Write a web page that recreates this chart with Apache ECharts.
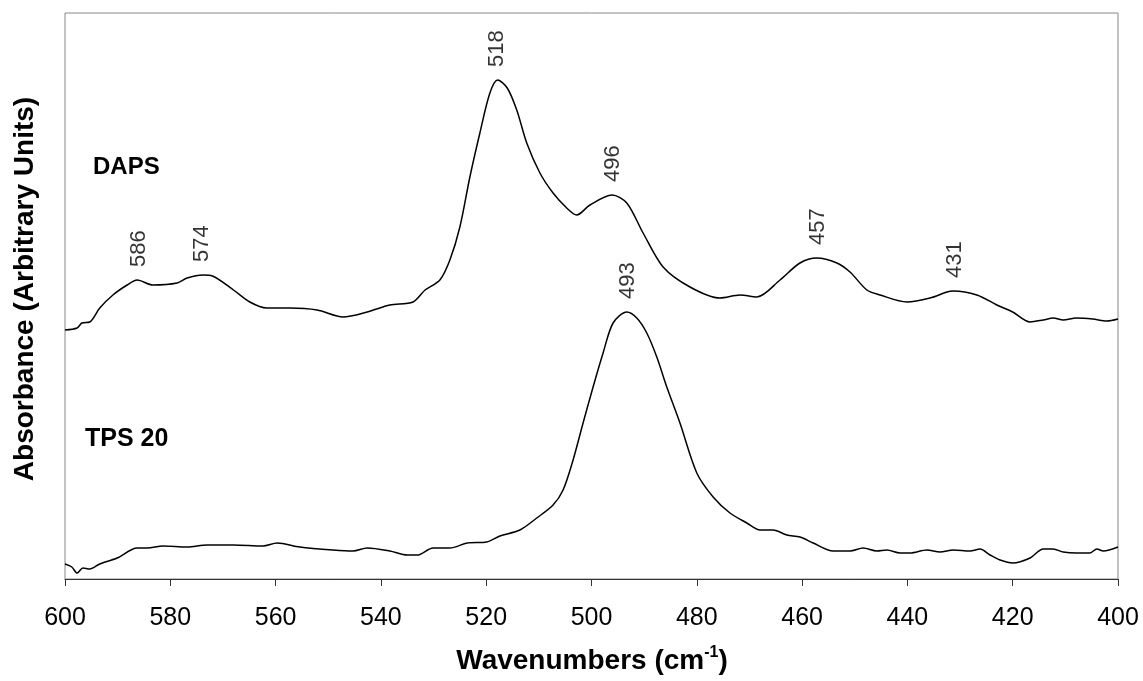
<!DOCTYPE html>
<html>
<head>
<meta charset="utf-8">
<script src="https://cdn.jsdelivr.net/npm/echarts@6/dist/echarts.min.js"></script>
<style>
  html, body { margin: 0; padding: 0; background: #fff; }
  #chart { width: 1143px; height: 681px; }
</style>
</head>
<body>
<div id="chart"></div>
<script>
// wavenumber ticks
const xTicks = [600, 580, 560, 540, 520, 500, 480, 460, 440, 420, 400]

// DAPS spectrum (offset upward)
const dapsWn = [600, 597.7, 596.8, 595.3, 593.4, 590.9, 588.2, 586.3, 583.3, 578.7,
  576.8, 573.8, 572, 568, 564.9, 561.7, 557.3, 552.1, 547.2, 542.6,
  538.3, 533.9, 531.6, 528.8, 526.9, 525, 523.1, 521.2, 519.3, 517.8,
  516, 514.2, 512.3, 509.8, 507.3, 504.7, 502.8, 500.3, 496.1, 493.3,
  490.2, 486.4, 481.3, 475.6, 471.8, 468.6, 464.2, 460.4, 457.2, 453.4,
  450.9, 447.7, 445.2, 440.1, 435.7, 432.5, 431.3, 426.8, 423, 420,
  416.7, 414.2, 412.3, 410.4, 407.9, 404.8, 402.1, 400]
const dapsAbs = [249, 251, 256, 257, 271, 284, 294, 299, 294, 296,
  301, 304, 303, 289, 277, 271, 271, 269, 262, 267,
  274, 277, 289, 299, 319, 352, 402, 446, 486, 499,
  491, 469, 436, 406, 386, 371, 364, 374, 384, 376,
  346, 312, 292, 281, 284, 282, 299, 316, 321, 316,
  307, 289, 284, 277, 281, 287, 288, 284, 274, 267,
  257, 259, 261, 259, 261, 260, 258, 260]

// TPS 20 spectrum
const tpsWn = [600, 598.7, 597.7, 596.6, 595.3, 593.4, 590.1, 586.3, 584.4, 581.4,
  576.8, 573, 568, 562.4, 559.7, 555.4, 549.1, 545.3, 542.6, 538.3,
  535, 533.1, 530.1, 526.9, 523.6, 519.9, 517.4, 513.6, 510.4, 507.3,
  505.4, 503.5, 501.6, 499.7, 497.8, 495.9, 493.3, 491.4, 489.5, 487.6,
  485.7, 483.2, 480, 476.9, 473.7, 470.5, 468, 465.5, 462.9, 460.4,
  457.9, 454.1, 450.9, 448.4, 445.8, 443.9, 441.4, 439.5, 436.3, 433.8,
  431.3, 428.1, 426.2, 424.3, 422.4, 420, 416.7, 414.2, 412.3, 410.4,
  407.9, 405.4, 404, 402.8, 400]
const tpsAbs = [15, 12, 6, 11, 10, 15, 21, 31, 31, 33,
  32, 34, 34, 33, 36, 32, 29, 28, 31, 28,
  24, 24, 31, 31, 36, 37, 43, 49, 61, 74,
  89, 119, 156, 192, 226, 256, 267, 261, 246, 222,
  192, 156, 106, 82, 66, 56, 49, 49, 44, 42,
  36, 28, 28, 31, 28, 29, 26, 26, 29, 27,
  29, 28, 30, 24, 19, 16, 21, 30, 30, 27,
  26, 26, 30, 28, 32]

// peak labels
const dapsPeaks = [586, 574, 518, 496, 457, 431]
const tpsPeaks = [493]

function pairs (xs, ys) {
  return xs.map((x, i) => [x, ys[i]])
}

// label sits above the highest point near the peak position
function peakPoints (peaks, xs, ys) {
  return peaks.map(p => {
    let best = -Infinity
    xs.forEach((x, i) => {
      if (Math.abs(x - p) <= 2.5 && ys[i] > best) best = ys[i]
    })
    return { value: [p, best], name: String(p) }
  })
}

const font = 'Liberation Sans, Arial, sans-serif'

let myChart = echarts.init(document.getElementById('chart'))
myChart.setOption({
  animation: false,
  grid: {
    left: 65, right: 25, top: 13, bottom: 102,
    show: true, borderColor: '#888', borderWidth: 1
  },
  xAxis: {
    type: 'value',
    min: 400,
    max: 600,
    interval: 20,
    inverse: true,
    axisLine: { show: true, lineStyle: { color: '#333', width: 1 } },
    axisTick: { show: true, length: 7, lineStyle: { color: '#333' } },
    axisLabel: { fontFamily: font, fontSize: 25, color: '#000', margin: 27 },
    splitLine: { show: false }
  },
  yAxis: {
    type: 'value',
    min: 0,
    max: 566,
    axisLine: { show: false },
    axisTick: { show: false },
    axisLabel: { show: false },
    splitLine: { show: false }
  },
  series: [
    {
      name: 'DAPS',
      type: 'line',
      data: pairs(dapsWn, dapsAbs),
      showSymbol: false,
      smooth: 0.3,
      lineStyle: { color: '#000', width: 1.5 }
    },
    {
      name: 'TPS 20',
      type: 'line',
      data: pairs(tpsWn, tpsAbs),
      showSymbol: false,
      smooth: 0.3,
      lineStyle: { color: '#000', width: 1.5 }
    },
    {
      type: 'scatter',
      symbolSize: 0,
      data: peakPoints(dapsPeaks, dapsWn, dapsAbs).concat(peakPoints(tpsPeaks, tpsWn, tpsAbs)),
      label: {
        show: true,
        position: 'top',
        distance: 13,
        rotate: 90,
        align: 'left',
        verticalAlign: 'middle',
        formatter: '{b}',
        fontFamily: font,
        fontSize: 22,
        color: '#000'
      }
    }
  ],
  graphic: [
    {
      type: 'text', left: 93, top: 155,
      style: { text: 'DAPS', font: 'bold 24px ' + font, fill: '#000' }
    },
    {
      type: 'text', left: 85, top: 427,
      style: { text: 'TPS 20', font: 'bold 25px ' + font, fill: '#000' }
    },
    {
      type: 'text',
      x: 25, y: 289, rotation: Math.PI / 2,
      style: {
        text: 'Absorbance (Arbitrary Units)',
        font: 'bold 28px ' + font,
        fill: '#000',
        align: 'center',
        verticalAlign: 'middle'
      }
    },
    {
      type: 'text',
      x: 592, y: 661,
      style: {
        text: '{a|Wavenumbers (cm}{s|-1}{a|)}',
        align: 'center',
        verticalAlign: 'middle',
        rich: {
          a: { font: 'bold 28px ' + font, fill: '#000', lineHeight: 32 },
          s: { font: 'bold 16px ' + font, fill: '#000', lineHeight: 32, verticalAlign: 'top' }
        }
      }
    }
  ]
})
</script>
</body>
</html>
